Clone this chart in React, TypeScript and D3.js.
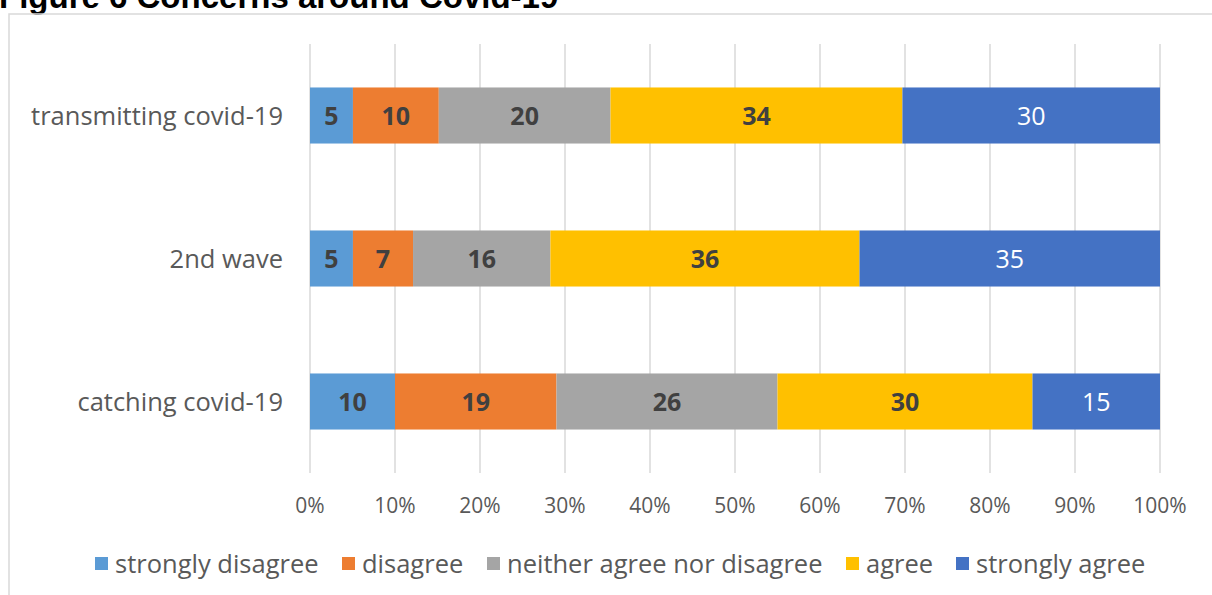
import React from "react";
import * as d3 from "d3";

const categories = ["transmitting covid-19", "2nd wave", "catching covid-19"];
const seriesNames = ["strongly disagree", "disagree", "neither agree nor disagree", "agree", "strongly agree"];
const stronglyDisagree = [5, 5, 10];
const disagree = [10, 7, 19];
const neither = [20, 16, 26];
const agree = [34, 36, 30];
const stronglyAgree = [30, 35, 15];
const colors = ["#5B9BD5", "#ED7D31", "#A5A5A5", "#FFC000", "#4472C4"];
const labelColors = ["#404040", "#404040", "#404040", "#404040", "#FFFFFF"];
const labelBold = [true, true, true, true, false];
const tickValues = [0, 0.1, 0.2, 0.3, 0.4, 0.5, 0.6, 0.7, 0.8, 0.9, 1.0];
const title = "Figure 6 Concerns around Covid-19";

const W = 1212, H = 595;
const FONT = "'Open Sans', Lato, sans-serif";

export default function App() {
  const seriesValues = [stronglyDisagree, disagree, neither, agree, stronglyAgree];
  const rows = categories.map((c, i) => {
    const r: any = { category: c };
    seriesNames.forEach((s, j) => (r[s] = seriesValues[j][i]));
    return r;
  });
  const stack = d3.stack<any>().keys(seriesNames).offset(d3.stackOffsetExpand);
  const stacked = stack(rows);

  const x = d3.scaleLinear().domain([0, 1]).range([310, 1160]);
  const y = d3.scaleBand().domain(categories).range([44, 473]).paddingInner(0.608).paddingOuter(0.304);
  const fmt = d3.format(".0%");

  // legend layout
  const legendX = [95, 342, 487, 846, 956];

  return (
    <svg width={W} height={H} style={{ position: "absolute", left: 0, top: 0, background: "#fff" }}>
      <text x={-1} y={8} fontFamily="Arial, 'Liberation Sans', sans-serif" fontWeight="bold" fontSize={33} fill="#000">{title}</text>
      <rect x={9} y={14} width={1240} height={620} fill="none" stroke="#d9d9d9" strokeWidth={1.5} />
      {tickValues.map((t) => (
        <line key={t} x1={x(t)} x2={x(t)} y1={44} y2={473} stroke="#d9d9d9" strokeWidth={1.5} />
      ))}
      {stacked.map((layer, j) => (
        <g key={layer.key}>
          {layer.map((d, i) => {
            const cat = categories[i];
            const x0 = x(d[0]), x1 = x(d[1]);
            const yy = y(cat)!;
            return (
              <g key={cat}>
                <rect x={x0} y={yy} width={x1 - x0} height={y.bandwidth()} fill={colors[j]} />
                <text x={(x0 + x1) / 2} y={yy + y.bandwidth() / 2} dy="0.36em" textAnchor="middle"
                  fontFamily={FONT} fontSize={25} fontWeight={labelBold[j] ? "bold" : "normal"} fill={labelColors[j]}>
                  {seriesValues[j][i]}
                </text>
              </g>
            );
          })}
        </g>
      ))}
      {categories.map((c) => (
        <text key={c} x={283} y={y(c)! + y.bandwidth() / 2} dy="0.36em" textAnchor="end" fontFamily={FONT} fontSize={25.5} fill="#595959">{c}</text>
      ))}
      {tickValues.map((t) => (
        <text key={t} x={x(t)} y={505} dy="0.36em" textAnchor="middle" fontFamily={FONT} fontSize={21} fill="#595959">{fmt(t)}</text>
      ))}
      {seriesNames.map((s, j) => (
        <g key={s}>
          <rect x={legendX[j]} y={557} width={13} height={13} fill={colors[j]} />
          <text x={legendX[j] + 20} y={563.5} dy="0.36em" fontFamily={FONT} fontSize={25.5} fill="#595959">{s}</text>
        </g>
      ))}
    </svg>
  );
}
